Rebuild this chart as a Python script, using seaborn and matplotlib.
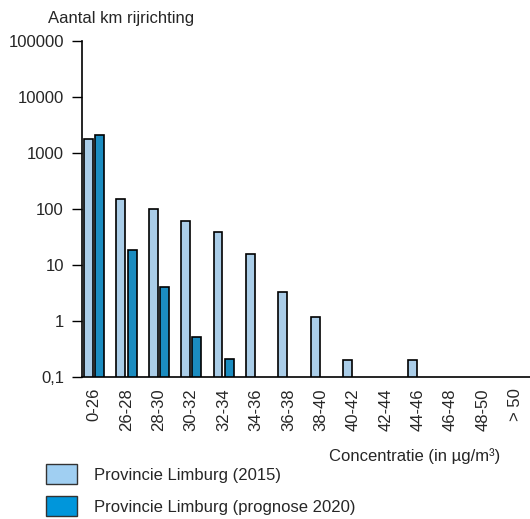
import matplotlib.pyplot as plt
import numpy as np
import pandas as pd
import seaborn as sb
from matplotlib.patches import Patch

klassen = ["0-26", "26-28", "28-30", "30-32", "32-34", "34-36", "36-38",
           "38-40", "40-42", "42-44", "44-46", "46-48", "48-50", "> 50"]
km_2015 = [1750, 150, 100, 62, 39, 16, 3.3, 1.2, 0.2, 0, 0.2, 0, 0, 0]
km_2020 = [2100, 18.5, 4, 0.52, 0.21, 0, 0, 0, 0, 0, 0, 0, 0, 0]
reeksen = ["Provincie Limburg (2015)", "Provincie Limburg (prognose 2020)"]
kleuren = ["#A0CFF2", "#0096DB"]
yticks = [0.1, 1, 10, 100, 1000, 10000, 100000]
ylabels = ["0,1", "1", "10", "100", "1000", "10000", "100000"]

df = pd.DataFrame({
    "klasse": klassen * 2,
    "km": km_2015 + km_2020,
    "reeks": [reeksen[0]] * len(klassen) + [reeksen[1]] * len(klassen),
})

sb.set_style("white")
plt.rcParams["font.family"] = ["Liberation Sans", "DejaVu Sans"]
fs = 12

fig = plt.figure(figsize=(5.30, 5.19), dpi=100)
ax = fig.add_axes([82 / 530, 1 - 377 / 519, 1 - 82 / 530, (377 - 41) / 519])

sb.barplot(data=df, x="klasse", y="km", hue="reeks", palette=kleuren,
           width=0.7, gap=0.22, edgecolor="black", linewidth=1.2,
           legend=False, ax=ax)

ax.set_yscale("log")
ax.set_ylim(0.1, 100000)
ax.set_xlim(-0.37, 13.45)
ax.set_yticks(yticks)
ax.set_yticklabels(ylabels)
ax.minorticks_off()
ax.tick_params(axis="y", left=True, length=7, width=1, pad=6, labelsize=fs, color="black")
ax.tick_params(axis="x", length=0, pad=8, labelsize=fs)
for lab in ax.get_xticklabels():
    lab.set_rotation(90)
ax.set_xlabel("")
ax.set_ylabel("")
for s in ["top", "right"]:
    ax.spines[s].set_visible(False)
for s in ["left", "bottom"]:
    ax.spines[s].set_color("black")
    ax.spines[s].set_linewidth(1.2)

fig.text(48 / 530, 1 - 19 / 519, "Aantal km rijrichting", fontsize=fs, va="center", ha="left")
fig.text(500 / 530, 1 - 456 / 519, "Concentratie (in µg/m³)", fontsize=fs, va="center", ha="right")

handles = [Patch(facecolor=c, edgecolor="#333333", linewidth=1) for c in kleuren]
fig.legend(handles, reeksen, loc="upper left", bbox_to_anchor=(46 / 530, 1 - 464 / 519),
           frameon=False, fontsize=fs, borderpad=0, borderaxespad=0,
           handlelength=1.86, handleheight=1.5, handletextpad=1.0, labelspacing=0.7)

fig.savefig("out.png", dpi=100)
